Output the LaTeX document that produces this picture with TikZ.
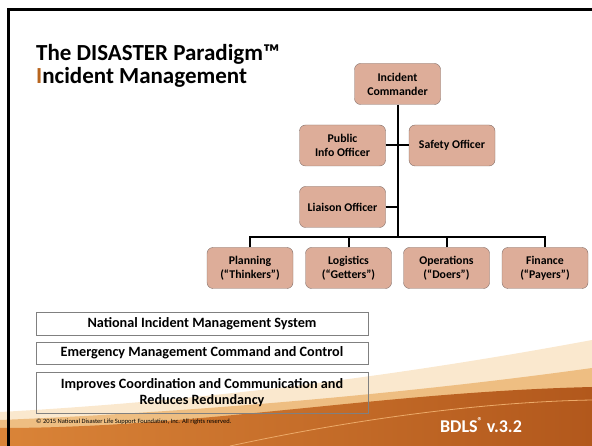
\documentclass[tikz,border=0pt]{standalone}
\usepackage{fontspec}
\setmainfont{Carlito}
\definecolor{boxfill}{RGB}{221,173,153}
\definecolor{boxline}{RGB}{130,110,104}
\definecolor{rust}{RGB}{184,101,30}
\definecolor{sand}{RGB}{250,232,206}
\definecolor{swooshtan}{RGB}{238,190,130}
\definecolor{ember}{RGB}{218,132,56}
\definecolor{emberdark}{RGB}{178,88,28}
\definecolor{swooshline}{RGB}{236,170,105}
\tikzset{
  role/.style={draw=boxline, fill=boxfill, rounded corners=6pt, minimum width=86pt,
    minimum height=41pt, align=center, inner sep=2pt,
    font=\fontsize{11.8}{14}\selectfont\bfseries},
  note/.style={draw=gray, thin, minimum width=332pt, align=center, inner sep=1pt,
    font=\fontsize{14.2}{15.5}\selectfont\bfseries},
  link/.style={line width=2pt}
}
\begin{document}
\begin{tikzpicture}[x=1pt,y=-1pt]
	\useasboundingbox (0,0) rectangle (592,446);
	% swoosh at the foot
	\fill[sand] (0,412) .. controls (220,400) and (420,372) .. (592,340) -- (592,446) -- (0,446) -- cycle;
	\fill[swooshtan] (0,420) .. controls (200,412) and (420,392) .. (592,368) -- (592,446) -- (0,446) -- cycle;
	\shade[left color=ember, right color=emberdark] (0,428) .. controls (200,428) and (380,392) .. (592,387) -- (592,446) -- (0,446) -- cycle;
	\draw[swooshline, line width=0.8pt] (230,446) .. controls (350,420) and (480,402) .. (592,400);
	\draw[line width=3pt] (8,446) -- (8,10) -- (592,10);

	\node[anchor=base west, inner sep=0, font=\fontsize{23}{27}\selectfont\bfseries] (title) at (36,61) {The DISASTER Paradigm™};
	\node[anchor=base west, inner sep=0, font=\fontsize{23}{27}\selectfont\bfseries] (subtitle) at (36,84) {\textcolor{rust}{I}ncident Management};

	% command staff
	\node[role] (cmd) at (397.5,84) {Incident\\Commander};
	\node[role] (pio) at (342.5,145.5) {Public\\Info Officer};
	\node[role] (safety) at (452,145.5) {Safety Officer};
	\node[role] (liaison) at (342.5,207) {Liaison Officer};
	\coordinate (bus) at (397.5,237);

	% general staff
	\node[role] (plan) at (250,268) {Planning\\(“Thinkers”)};
	\node[role] (log) at (348.5,268) {Logistics\\(“Getters”)};
	\node[role] (ops) at (446.5,268) {Operations\\(“Doers”)};
	\node[role] (fin) at (545,268) {Finance\\(“Payers”)};

	\draw[link] (cmd.south) -- (bus);
	\draw[link] (pio.east) -- (pio.east -| bus);
	\draw[link] (safety.west) -- (safety.west -| bus);
	\draw[link] (liaison.east) -- (liaison.east -| bus);
	\draw[link] (plan.north) |- (bus) -| (fin.north);
	\draw[link] (log.north) -- (log.north |- bus);
	\draw[link] (ops.north) -- (ops.north |- bus);

	\node[note, minimum height=23pt] (nims) at (202,323.5) {National Incident Management System};
	\node[note, minimum height=22pt] (emcc) at (202,353) {Emergency Management Command and Control};
	\node[note, minimum height=41pt] (coord) at (202,392.5) {Improves Coordination and Communication and\\Reduces Redundancy};
	\node[anchor=west, inner sep=0, font=\fontsize{6.5}{7}\selectfont] (copy) at (36,422) {© 2015 National Disaster Life Support Foundation, Inc. All rights reserved.};
	\node[text=white, font=\fontsize{18}{20}\selectfont\bfseries] (ver) at (481,425) {BDLS\raisebox{0.45em}{\fontsize{10}{10}\selectfont ®} v.3.2};
\end{tikzpicture}
\end{document}
